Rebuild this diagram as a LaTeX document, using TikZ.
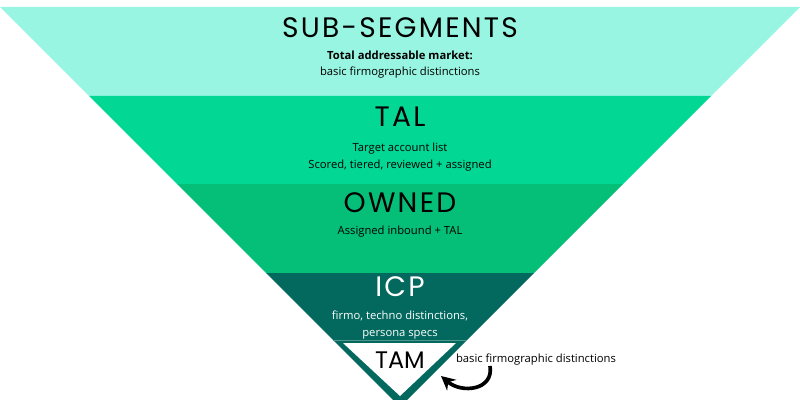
\documentclass[tikz,border=0pt]{standalone}
\usepackage{fontspec}
\setmainfont{Open Sans}
\newfontfamily\titlefont[LetterSpace=8]{Poppins}
\newfontfamily\tamfont{Poppins}
\usetikzlibrary{arrows.meta}
\definecolor{mint}{HTML}{98F5E1}
\definecolor{talgreen}{HTML}{03D794}
\definecolor{ownedgreen}{HTML}{05BF78}
\definecolor{icpteal}{HTML}{03695E}
\tikzset{
  layertitle/.style={font=\titlefont\fontsize{20}{22}\selectfont, inner sep=0pt},
  layertext/.style={font=\fontsize{8}{11.5}\selectfont, align=center, inner sep=0pt},
}
\begin{document}
\begin{tikzpicture}[x=0.025cm,y=-0.025cm]
\useasboundingbox (0,0) rectangle (800,400);
% funnel bands
\fill[mint] (0,7) -- (800,7) -- (711,96) -- (89,96) -- cycle;
\fill[talgreen] (89,96) -- (711,96) -- (623,184) -- (177,184) -- cycle;
\fill[ownedgreen] (177,184) -- (623,184) -- (534,273) -- (266,273) -- cycle;
\fill[icpteal] (266,273) -- (534,273) -- (467,340) -- (333,340) -- cycle;
\fill[icpteal] (333,340) -- (467,340) -- (400,407) -- cycle;
\draw[icpteal!70!white,line width=0.4pt] (333,340) -- (467,340);
\fill[white] (343,343) -- (456,343) -- (400,396) -- cycle;
% labels
\node[layertitle] (sub) at (400,28) {SUB-SEGMENTS};
\node[layertext] (subtxt) at (400,64.5) {\textbf{Total addressable market:}\\basic firmographic distinctions};
\node[layertitle] (tal) at (400,117) {TAL};
\node[layertext] (taltxt) at (400,157) {Target account list\\Scored, tiered, reviewed + assigned};
\node[layertitle] (owned) at (400,203) {OWNED};
\node[layertext] (ownedtxt) at (400,232) {Assigned inbound + TAL};
\node[layertitle,white] (icp) at (400,287) {ICP};
\node[layertext,white] (icptxt) at (400,325) {firmo, techno distinctions,\\persona specs};
\node[inner sep=0pt,font=\tamfont\fontsize{17}{19}\selectfont] (tam) at (400,360) {TAM};
\node[layertext] (note) at (536,360) {basic firmographic distinctions};
% arrow to TAM
\coordinate (tail) at (490,366);
\coordinate (head) at (441,376);
\draw[line width=2.6pt,-{Stealth[length=10pt,width=10pt]}] (tail) .. controls (494,390) and (462,394) .. (head);
\end{tikzpicture}
\end{document}
